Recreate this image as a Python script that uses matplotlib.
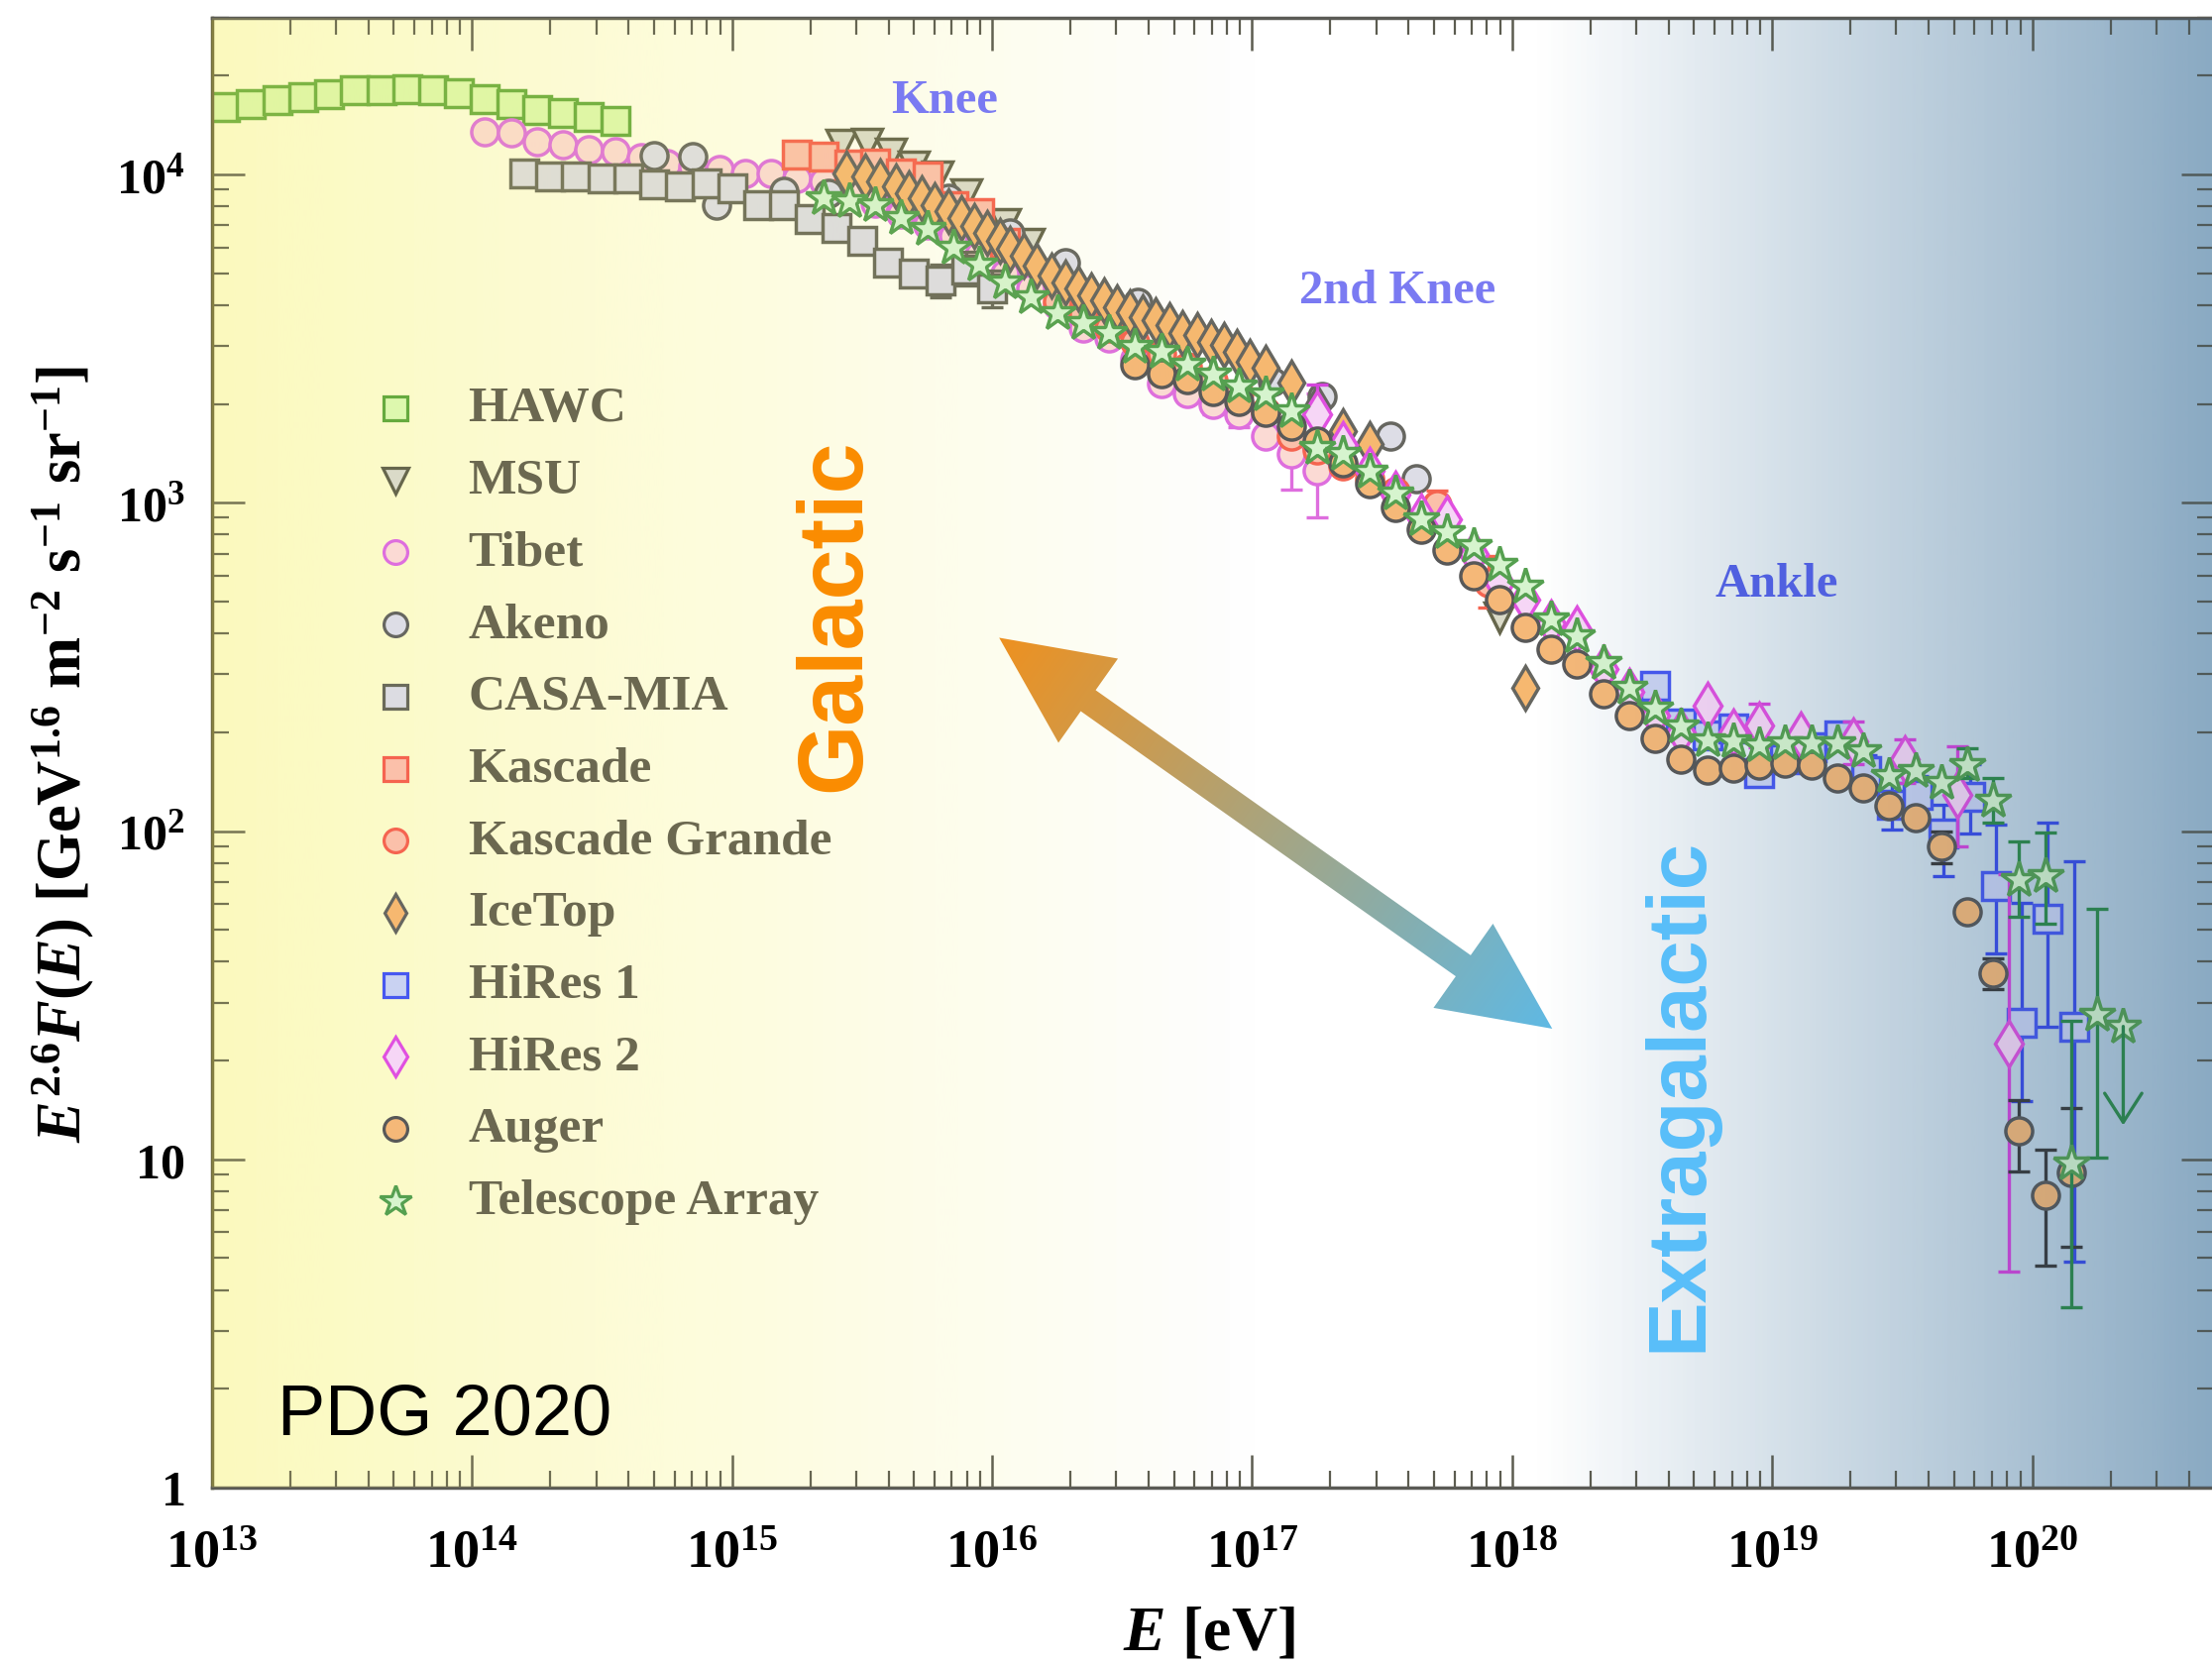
import numpy as np
import matplotlib
matplotlib.use('Agg')
import matplotlib.pyplot as plt
from matplotlib.patches import Polygon
from matplotlib.ticker import FixedLocator, FixedFormatter, LogLocator, NullFormatter

plt.rcParams['mathtext.fontset'] = 'custom'
plt.rcParams['mathtext.rm'] = 'Liberation Serif:bold'
plt.rcParams['mathtext.it'] = 'Liberation Serif:italic:bold'
plt.rcParams['mathtext.bf'] = 'Liberation Serif:bold'
plt.rcParams['font.family'] = 'Liberation Serif'
plt.rcParams['font.weight'] = 'bold'

# ---- measurements: log10(E / eV) and E^2.6 F(E) ----
hawc_logE = [13.05, 13.15, 13.25, 13.35, 13.45, 13.55, 13.65, 13.75, 13.85, 13.95,
             14.05, 14.15, 14.25, 14.35, 14.45, 14.55]
hawc_flux = [16040, 16420, 16820, 17220, 17620, 18040, 18110, 18200, 18040, 17740,
             17020, 16420, 15730, 15370, 15020, 14610]

msu_logE = [15.42, 15.52, 15.61, 15.70, 15.79, 15.90, 16.05, 16.14, 17.95]
msu_flux = [12300, 12440, 11590, 10570, 9860, 8690, 7050, 6130, 446]

tibet_logE = [14.05, 14.15, 14.25, 14.35, 14.45, 14.55, 14.65, 14.75, 14.85, 14.95,
              15.05, 15.15, 15.25, 15.35, 15.45, 15.55, 15.65, 15.75, 15.85, 15.95,
              16.05, 16.15, 16.25, 16.35, 16.45, 16.55, 16.65, 16.75, 16.85, 16.95,
              17.05, 17.15, 17.25]
tibet_flux = [13490, 13390, 12580, 12300, 11880, 11730, 11250, 10820, 10560, 10330,
              10090, 10090, 9700, 9530, 8900, 8200, 7600, 7000, 6500, 5700,
              5000, 4500, 4000, 3400, 3170, 2750, 2300, 2150, 1990, 1860,
              1600, 1410, 1250]
tibet_err_logE = [16.85, 16.95, 17.15, 17.25]
tibet_err_lo = [1860, 1700, 1100, 905]
tibet_err_hi = [2130, 2020, 1800, 2150]

akeno_logE = [14.70, 14.85, 14.94, 15.20, 15.37, 15.83, 16.07, 16.28, 16.56, 17.08,
              17.27, 17.53, 17.63]
akeno_flux = [11430, 11330, 8090, 8890, 8780, 8480, 6650, 5400, 4080, 2340,
              2110, 1600, 1180]

casa_logE = [14.20, 14.30, 14.40, 14.50, 14.60, 14.70, 14.80, 14.90, 15.00, 15.10,
             15.20, 15.30, 15.40, 15.50, 15.60, 15.70, 15.80, 15.90, 16.00]
casa_flux = [10090, 9860, 9860, 9750, 9750, 9310, 9200, 9420, 9100, 8090,
             8090, 7300, 6880, 6280, 5400, 4980, 4750, 5150, 4490]
casa_err_logE = [15.80, 15.90, 16.00]
casa_err_lo = [4230, 4590, 3950]
casa_err_hi = [5300, 5800, 5100]

kascade_logE = [15.25, 15.35, 15.45, 15.55, 15.65, 15.75, 15.85, 15.95, 16.05]
kascade_flux = [11460, 11330, 10700, 10820, 10090, 9860, 8000, 7640, 6200]

kg_logE = [16.25, 16.35, 16.45, 16.55, 16.65, 16.75, 16.85, 16.95, 17.05, 17.15,
           17.25, 17.35, 17.45, 17.55, 17.71, 17.91]
kg_flux = [4100, 3750, 3400, 3100, 2850, 2600, 2350, 2150, 1900, 1600,
           1450, 1300, 1180, 1080, 990, 569]
kg_err_logE = [17.71, 17.91]
kg_err_lo = [900, 478]
kg_err_hi = [1090, 687]

icetop_logE = [15.44, 15.51, 15.57, 15.63, 15.68, 15.73, 15.78, 15.83, 15.88, 15.93,
               15.98, 16.03, 16.07, 16.12, 16.17, 16.23, 16.28, 16.33, 16.38, 16.43,
               16.48, 16.53, 16.58, 16.63, 16.68, 16.73, 16.79, 16.84, 16.89, 16.94,
               16.99, 17.05, 17.15, 17.25, 17.35, 17.45, 18.05]
icetop_flux = [10090, 9860, 9530, 9200, 8780, 8480, 8090, 7730, 7380, 6970,
               6650, 6280, 5920, 5650, 5270, 4920, 4700, 4490, 4280, 4130,
               3940, 3810, 3680, 3590, 3470, 3280, 3240, 3090, 3020, 2880,
               2690, 2570, 2320, 1950, 1650, 1510, 274]

hires1_logE = [18.55, 18.65, 18.75, 18.85, 18.95, 19.05, 19.15, 19.26, 19.36, 19.46,
               19.56, 19.66, 19.76, 19.86, 19.96, 20.06, 20.16]
hires1_flux = [277, 212, 196, 205, 150, 165, 180, 196, 152, 120,
               129, 98, 127, 68, 26.1, 54, 25.4]
hires1_err_logE = [19.36, 19.46, 19.56, 19.66, 19.76, 19.86, 19.96, 20.06, 20.16]
hires1_err_lo = [138, 101, 112, 73, 98, 42.4, 15.0, 25.4, 4.87]
hires1_err_hi = [170, 140, 147, 120, 160, 105, 60.4, 106, 80.8]

hires2_logE = [17.25, 17.35, 17.45, 17.55, 17.65, 17.75, 17.85, 17.95, 18.05, 18.15,
               18.25, 18.35, 18.45, 18.55, 18.65, 18.75, 18.85, 18.95, 19.11, 19.31,
               19.51, 19.71, 19.91]
hires2_flux = [1860, 1500, 1250, 1060, 900, 890, 700, 569, 507, 430,
               411, 311, 265, 225, 200, 241, 200, 210, 196, 187,
               166, 129, 22.5]
hires2_err_logE = [17.25, 18.95, 19.31, 19.51, 19.71, 19.91]
hires2_err_lo = [1500, 180, 160, 140, 90, 4.56]
hires2_err_hi = [2290, 245, 215, 190, 181, 74]

auger_logE = [16.55, 16.65, 16.75, 16.85, 16.95, 17.05, 17.15, 17.25, 17.35, 17.45,
              17.55, 17.65, 17.75, 17.85, 17.95, 18.05, 18.15, 18.25, 18.35, 18.45,
              18.55, 18.65, 18.75, 18.85, 18.95, 19.05, 19.15, 19.25, 19.35, 19.45,
              19.55, 19.65, 19.75, 19.85, 19.95, 20.05, 20.15]
auger_flux = [2630, 2480, 2370, 2185, 2040, 1880, 1713, 1542, 1327, 1141,
              970, 830, 718, 597, 507, 416, 358, 322, 262, 225,
              191, 166, 153, 155, 159, 161, 159, 145, 135, 119,
              110, 90, 56.6, 36.9, 12.2, 7.76, 9.11]
auger_err_logE = [19.65, 19.85, 19.95, 20.05, 20.15]
auger_err_lo = [80, 33, 9.2, 4.75, 5.4]
auger_err_hi = [100, 41, 15.1, 10.7, 14.3]

ta_logE = [15.35, 15.45, 15.55, 15.65, 15.75, 15.85, 15.95, 16.05, 16.15, 16.25,
           16.35, 16.45, 16.55, 16.65, 16.75, 16.85, 16.95, 17.05, 17.15, 17.25,
           17.35, 17.45, 17.55, 17.65, 17.75, 17.85, 17.95, 18.05, 18.15, 18.25,
           18.35, 18.45, 18.55, 18.65, 18.75, 18.85, 18.95, 19.05, 19.15, 19.25,
           19.35, 19.45, 19.55, 19.65, 19.75, 19.85, 19.95, 20.05, 20.15, 20.25,
           20.35]
ta_flux = [8480, 8280, 8090, 7380, 6810, 6000, 5330, 4700, 4230, 3770,
           3515, 3280, 2985, 2880, 2630, 2455, 2260, 2135, 1901, 1473,
           1406, 1239, 1070, 890, 815, 740, 647, 556, 441, 393,
           326, 274, 236, 208, 189, 187, 183, 185, 185, 185,
           175, 147, 152, 140, 159, 124, 71, 73, 9.7, 27.5,
           25.4]
ta_err_logE = [19.75, 19.85, 19.95, 20.05, 20.15, 20.25]
ta_err_lo = [145, 106, 54.7, 52.2, 3.55, 10.1]
ta_err_hi = [179, 145, 93, 98.8, 26.5, 58]
ta_limit_logE = 20.35
ta_limit_flux = [25.4, 12.7]

# name, data, errors, marker style, errorbar colour
series = [
    ('HAWC', hawc_logE, hawc_flux, None,
     dict(marker='s', ms=19.5, mfc='#DDF8AE', mec='#66AA3E'), None),
    ('MSU', msu_logE, msu_flux, None,
     dict(marker='v', ms=21, mfc='#DADAC8', mec='#66664C'), None),
    ('Tibet', tibet_logE, tibet_flux, (tibet_err_logE, tibet_err_lo, tibet_err_hi),
     dict(marker='o', ms=19.5, mfc='#FBDAD4', mec='#DE6EDE'), '#DE6EDE'),
    ('Akeno', akeno_logE, akeno_flux, None,
     dict(marker='o', ms=19.5, mfc='#DDDDE6', mec='#666660'), None),
    ('CASA-MIA', casa_logE, casa_flux, (casa_err_logE, casa_err_lo, casa_err_hi),
     dict(marker='s', ms=19.5, mfc='#DCDCE2', mec='#6A6A5A'), '#6A6A5A'),
    ('Kascade', kascade_logE, kascade_flux, None,
     dict(marker='s', ms=19.5, mfc='#FBC0AA', mec='#F56450'), None),
    ('Kascade Grande', kg_logE, kg_flux, (kg_err_logE, kg_err_lo, kg_err_hi),
     dict(marker='o', ms=19.5, mfc='#FBC0AA', mec='#F56450'), '#F56450'),
    ('IceTop', icetop_logE, icetop_flux, None,
     dict(marker='d', ms=22, mfc='#F6B870', mec='#666660'), None),
    ('HiRes 1', hires1_logE, hires1_flux, (hires1_err_logE, hires1_err_lo, hires1_err_hi),
     dict(marker='s', ms=19.5, mfc='#C9D2F2', mec='#4758F0'), '#3A4CE8'),
    ('HiRes 2', hires2_logE, hires2_flux, (hires2_err_logE, hires2_err_lo, hires2_err_hi),
     dict(marker='d', ms=23, mfc='#F6D6F6', mec='#E050E0'), '#D444DC'),
    ('Auger', auger_logE, auger_flux, (auger_err_logE, auger_err_lo, auger_err_hi),
     dict(marker='o', ms=19.5, mfc='#F5B878', mec='#585858'), '#3A3A3A'),
    ('Telescope Array', ta_logE, ta_flux, (ta_err_logE, ta_err_lo, ta_err_hi),
     dict(marker='*', ms=27, mfc='#D6F4CE', mec='#55A050'), '#2E8A48'),
]

W, H = 2232, 1683
fig = plt.figure(figsize=(W / 100, H / 100), dpi=100)
ax = fig.add_axes([214 / W, 181 / H, 2020 / W, 1483 / H])
ax.set_xscale('log')
ax.set_yscale('log')
xmax = 5e20
ax.set_xlim(1e13, xmax)
ax.set_ylim(1, 3e4)
ax.set_autoscale_on(False)

# background: yellow on the galactic side, steel blue on the extragalactic side
t = np.linspace(13, np.log10(xmax), 900)
white = np.ones(3)
yellow_edge = np.array([252, 250, 190]) / 255
blue_edge = np.array([138, 170, 195]) / 255
s_y = np.clip((17.0 - t) / 4.0, 0, 1)[:, None]
s_b = np.clip((t - 18.1) / (t[-1] - 18.1), 0, 1)[:, None]
target = white - s_y * (white - yellow_edge) - s_b * (white - blue_edge)
tint = np.where(t[:, None] < 17.5, np.array([245, 235, 100]) / 255,
                np.array([40, 85, 125]) / 255)
alpha = 0.18 * s_y[:, 0] + 0.22 * s_b[:, 0]
under = np.clip((target - alpha[:, None] * tint) / (1 - alpha[:, None]), 0, 1)
over = np.column_stack([tint, alpha])
ax.imshow(under[None], extent=(0, 1, 0, 1), transform=ax.transAxes,
          aspect='auto', interpolation='bilinear', zorder=0)
ax.imshow(over[None], extent=(0, 1, 0, 1), transform=ax.transAxes,
          aspect='auto', interpolation='bilinear', zorder=20)
ax.set_xlim(1e13, xmax)
ax.set_ylim(1, 3e4)

for name, logE, flux, err, st, ecol in series:
    if err is not None:
        ex, lo, hi = err
        ey = [flux[logE.index(v)] for v in ex]
        ax.errorbar(10 ** np.array(ex), ey,
                    yerr=[np.array(ey) - np.array(lo), np.array(hi) - np.array(ey)],
                    fmt='none', ecolor=ecol, elinewidth=2.4, capsize=8, capthick=2.4, zorder=2)
    ax.plot(10 ** np.array(logE), flux, ls='none', mew=2.5, zorder=2, **st)

# TA upper limit
ax.annotate('', xy=(10 ** ta_limit_logE, ta_limit_flux[1]),
            xytext=(10 ** ta_limit_logE, ta_limit_flux[0]),
            arrowprops=dict(arrowstyle='->,head_length=0.7,head_width=0.45',
                            color='#2E8A48', lw=2.4, mutation_scale=30, shrinkA=0, shrinkB=0),
            zorder=2)

# hand-made legend
for i, (name, logE, flux, err, st, ecol) in enumerate(series):
    yf = (1502 - (413 + 72.7 * i)) / 1483
    ax.plot([0.0914], [yf], transform=ax.transAxes, ls='none', mew=2.3, zorder=30,
            clip_on=False, **dict(st, ms=st['ms'] * 0.88))
    ax.text(0.128, yf, name, transform=ax.transAxes, ha='left', va='center',
            fontsize=37, fontweight='bold', color='#6B6850', zorder=30)

# axes, ticks
x_major = [1e13, 1e14, 1e15, 1e16, 1e17, 1e18, 1e19, 1e20]
x_labels = [r'$10^{13}$', r'$10^{14}$', r'$10^{15}$', r'$10^{16}$',
            r'$10^{17}$', r'$10^{18}$', r'$10^{19}$', r'$10^{20}$']
y_major = [1, 10, 100, 1000, 10000]
y_labels = [r'$1$', r'$10$', r'$10^2$', r'$10^3$', r'$10^4$']
ax.xaxis.set_major_locator(FixedLocator(x_major))
ax.xaxis.set_major_formatter(FixedFormatter(x_labels))
ax.yaxis.set_major_locator(FixedLocator(y_major))
ax.yaxis.set_major_formatter(FixedFormatter(y_labels))
for a in (ax.xaxis, ax.yaxis):
    a.set_minor_locator(LogLocator(base=10, subs=np.arange(2, 10) * 1.0, numticks=40))
    a.set_minor_formatter(NullFormatter())

ax.tick_params(which='both', direction='in', top=True, right=True, color='#5C5C50')
ax.tick_params(which='major', length=24, width=1.8, labelsize=36)
ax.tick_params(which='minor', length=12, width=1.6)
ax.tick_params(axis='x', pad=30, labelsize=39)
ax.tick_params(axis='y', pad=20)

for tk in ax.yaxis.get_major_ticks() + ax.yaxis.get_minor_ticks():
    tk.tick2line.set_color('#0A1420')
for tk in ax.xaxis.get_major_ticks() + ax.xaxis.get_minor_ticks():
    if np.log10(tk.get_loc()) > 18.2:
        tk.tick1line.set_color('#142434')
        tk.tick2line.set_color('#142434')

for side, col in (('left', '#6E6A3C'), ('bottom', '#5A5A55'), ('top', '#5A5A55'), ('right', '#0A1420')):
    ax.spines[side].set_color(col)
    ax.spines[side].set_linewidth(2.5)

ax.set_xlabel(r'$E\ [\mathrm{eV}]$', fontsize=46)
ax.xaxis.set_label_coords(0.498, -0.080)
ax.set_ylabel(r'$E^{2.6}F(E)\ [\mathrm{GeV}^{1.6}\ \mathrm{m}^{-2}\ \mathrm{s}^{-1}\ \mathrm{sr}^{-1}]$',
              fontsize=45)
ax.yaxis.set_label_coords(-0.058, 0.5)

# labels on the spectrum
knee_col = '#7A7AF2'
ax.text(10 ** 15.815, 16900, 'Knee', ha='center', va='center', fontsize=35,
        fontweight='bold', color=knee_col, zorder=30)
ax.text(10 ** 17.557, 4440, '2nd Knee', ha='center', va='center', fontsize=35,
        fontweight='bold', color=knee_col, zorder=30)
ax.text(10 ** 19.016, 566, 'Ankle', ha='center', va='center', fontsize=35,
        fontweight='bold', color='#5060E0', zorder=30)
ax.text(10 ** 15.398, 456, 'Galactic', rotation=90, ha='center', va='center',
        fontsize=66, fontweight='bold', family='Liberation Sans', color='#FA8C00', zorder=30)
ax.text(10 ** 18.642, 15.9, 'Extragalactic', rotation=90, ha='center', va='center',
        fontsize=60, fontweight='bold', family='Liberation Sans', color='#58BEFA', zorder=30)
ax.text(10 ** 13.252, 1.66, 'PDG 2020', ha='left', va='center', fontsize=52,
        fontweight='normal', family='Liberation Sans', color='black', zorder=30)

# double arrow with an orange-to-blue fill, drawn in pixel space
arrow_from = (10 ** 16.027, 388)
arrow_to = (10 ** 18.154, 25)
p0 = ax.transData.transform(arrow_from)
p1 = ax.transData.transform(arrow_to)
L = np.linalg.norm(p1 - p0)
d = (p1 - p0) / L
nrm = np.array([-d[1], d[0]])
hl, hw, sw = 110, 52, 13
verts = [p0, p0 + d * hl + nrm * hw, p0 + d * hl + nrm * sw, p1 - d * hl + nrm * sw,
         p1 - d * hl + nrm * hw, p1, p1 - d * hl - nrm * hw, p1 - d * hl - nrm * sw,
         p0 + d * hl - nrm * sw, p0 + d * hl - nrm * hw]
ov = fig.add_axes([0, 0, 1, 1], zorder=5)
ov.set_axis_off()
poly = Polygon(verts, closed=True, facecolor='none', edgecolor='none')
ov.add_patch(poly)
vx = np.array(verts)
x0, x1 = vx[:, 0].min() - 5, vx[:, 0].max() + 5
y0, y1 = vx[:, 1].min() - 5, vx[:, 1].max() + 5
X, Y = np.meshgrid(np.linspace(x0, x1, 400), np.linspace(y0, y1, 400))
s = np.clip(((X - p0[0]) * d[0] + (Y - p0[1]) * d[1]) / L, 0, 1)
c_start = np.array([238, 145, 32]) / 255
c_end = np.array([95, 185, 228]) / 255
grad = c_start + s[..., None] * (c_end - c_start)
im = ov.imshow(grad, extent=(x0, x1, y0, y1), origin='lower', aspect='auto',
               interpolation='bilinear')
im.set_clip_path(poly)
ov.set_xlim(0, W)
ov.set_ylim(0, H)

fig.savefig('out.png', dpi=100)
